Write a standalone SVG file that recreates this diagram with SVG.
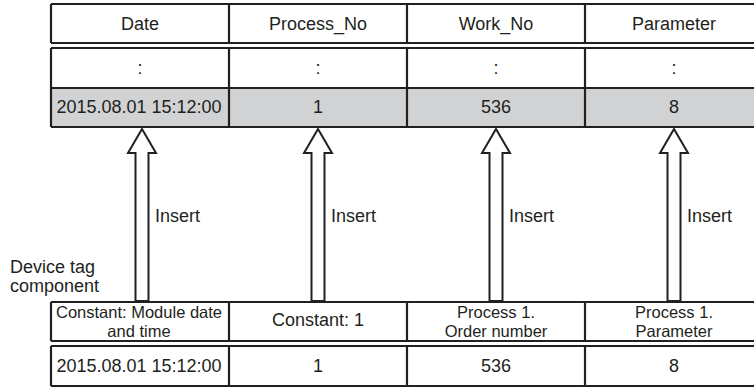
<svg xmlns="http://www.w3.org/2000/svg" width="754" height="387" viewBox="0 0 754 387">
<style>
.ln{stroke:#231f20;stroke-width:2.2;fill:none}
.t{font-family:"Liberation Sans",Arial,sans-serif;font-size:18px;fill:#231f20;text-anchor:middle}
.s{font-size:16.5px}
.l{text-anchor:start}
.arr{fill:#fff;stroke:#231f20;stroke-width:2;stroke-linejoin:miter}
</style>
<rect width="754" height="387" fill="#fff"/>
<g id="top-table">
<rect x="51" y="88" width="710" height="39" fill="#d1d2d4"/>
<path class="ln" d="M51 4H760M51 43H760M51 48H760M51 88H760M51 127H760"/>
<path class="ln" d="M51 4V43M229 4V43M407 4V43M585 4V43M51 48V127M229 48V127M407 48V127M585 48V127"/>
<text class="t" x="140" y="30">Date</text>
<text class="t" x="318" y="30">Process_No</text>
<text class="t" x="496" y="30">Work_No</text>
<text class="t" x="674" y="30">Parameter</text>
<text class="t" x="140" y="74">:</text>
<text class="t" x="318" y="74">:</text>
<text class="t" x="496" y="74">:</text>
<text class="t" x="674" y="74">:</text>
<text class="t" x="139" y="113">2015.08.01 15:12:00</text>
<text class="t" x="318" y="113">1</text>
<text class="t" x="496" y="113">536</text>
<text class="t" x="674" y="113">8</text>
</g>
<g id="connectors">
<polygon class="arr" points="142,129 156,153 148.5,153 148.5,301 135.5,301 135.5,153 128,153"/>
<polygon class="arr" points="318,129 332,153 324.5,153 324.5,301 311.5,301 311.5,153 304,153"/>
<polygon class="arr" points="496,129 510,153 502.5,153 502.5,301 489.5,301 489.5,153 482,153"/>
<polygon class="arr" points="674,129 688,153 680.5,153 680.5,301 667.5,301 667.5,153 660,153"/>
<text class="t l" x="155" y="222">Insert</text>
<text class="t l" x="331" y="222">Insert</text>
<text class="t l" x="509" y="222">Insert</text>
<text class="t l" x="687" y="222">Insert</text>
</g>
<g id="device-label">
<text class="t l" x="10" y="273">Device tag</text>
<text class="t l" x="10" y="292">component</text>
</g>
<g id="bottom-table">
<path class="ln" d="M51 302H760M51 341H760M51 346H760M51 386H760"/>
<path class="ln" d="M51 302V341M229 302V341M407 302V341M585 302V341M51 346V386M229 346V386M407 346V386M585 346V386"/>
<text class="t s" x="139" y="318">Constant: Module date</text>
<text class="t s" x="139" y="337">and time</text>
<text class="t" x="318" y="326">Constant: 1</text>
<text class="t s" x="496" y="318">Process 1.</text>
<text class="t s" x="496" y="337">Order number</text>
<text class="t s" x="674" y="318">Process 1.</text>
<text class="t s" x="674" y="337">Parameter</text>
<text class="t" x="139" y="372">2015.08.01 15:12:00</text>
<text class="t" x="318" y="372">1</text>
<text class="t" x="496" y="372">536</text>
<text class="t" x="674" y="372">8</text>
</g>
</svg>
